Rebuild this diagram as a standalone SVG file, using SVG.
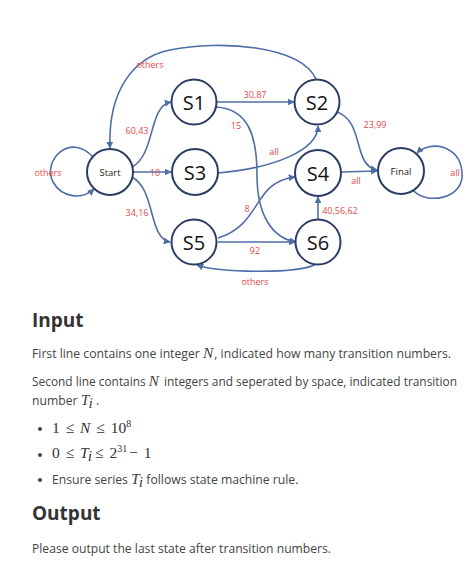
<svg xmlns="http://www.w3.org/2000/svg" width="474" height="569" viewBox="0 0 474 569">
<defs>
<marker id="arr" viewBox="0 0 10 10" refX="9" refY="5" markerWidth="7" markerHeight="7" markerUnits="userSpaceOnUse" orient="auto">
<path d="M0,0 L10,5 L0,10 z" fill="#4f6ea8"/>
</marker>
<style>
.node circle{fill:#fff;stroke:#2c3d63;stroke-width:2}
.big{font-family:"Open Sans","Liberation Sans",sans-serif;font-size:20px;fill:#111;text-anchor:middle;dominant-baseline:central}
.small{font-family:"Open Sans","Liberation Sans",sans-serif;font-size:9.5px;fill:#222;text-anchor:middle;dominant-baseline:central}
#edges path{fill:none;stroke:#4f6ea8;stroke-width:1.6;marker-end:url(#arr)}
.lbl{font-family:"Open Sans","Liberation Sans",sans-serif;font-size:9px;fill:#e04a4a;text-anchor:middle;dominant-baseline:central}
.body{font-family:"Open Sans","Liberation Sans",sans-serif;font-size:12.2px;fill:#444}
.h{font-family:"Open Sans","Liberation Sans",sans-serif;font-size:19px;font-weight:bold;fill:#333}
.m{font-family:"Liberation Serif","DejaVu Serif",serif;font-size:15.5px}
.mi{font-family:"Liberation Serif","DejaVu Serif",serif;font-style:italic;font-size:15.5px}
</style>
</defs>
<g id="edges">
<path d="M93,157 C70,132 42,160 53,182 C62,198 82,200 94,189"/>
<path d="M316,79 C300,45 220,40 170,50 C130,58 108,95 110,148"/>
<path d="M132,167 C156,154 148,106 171,102"/>
<path d="M133,172 L171,172"/>
<path d="M132,177 C156,190 148,238 170,242"/>
<path d="M217,102 L294,102"/>
<path d="M216,107 C248,109 257,135 257,175 C257,215 272,238 296,242"/>
<path d="M218,173 C275,168 318,150 318,126"/>
<path d="M218,238 C262,225 252,182 295,177"/>
<path d="M341,172 L377,171"/>
<path d="M337,112 C365,122 352,165 377,170"/>
<path d="M318,219 L318,197"/>
<path d="M218,242 L295,242"/>
<path d="M316,264 C300,274 220,273 197,265"/>
<path d="M413,190 C425,205 465,200 462,172 C460,145 430,140 417,153"/>
</g>
<g id="edge-labels">
<text class="lbl" x="48" y="172">others</text>
<text class="lbl" x="150" y="64">others</text>
<text class="lbl" x="137" y="130">60,43</text>
<text class="lbl" x="155" y="172">10</text>
<text class="lbl" x="137" y="212">34,16</text>
<text class="lbl" x="255" y="94">30,87</text>
<text class="lbl" x="236" y="125">15</text>
<text class="lbl" x="274" y="151">all</text>
<text class="lbl" x="375" y="124">23,99</text>
<text class="lbl" x="455" y="172">all</text>
<text class="lbl" x="356" y="180">all</text>
<text class="lbl" x="247" y="208">8</text>
<text class="lbl" x="340" y="210">40,56,62</text>
<text class="lbl" x="255" y="250">92</text>
<text class="lbl" x="255" y="281">others</text>
</g>
<g id="Start" class="node"><circle cx="110" cy="172" r="23"/><text class="small" x="110" y="172">Start</text></g>
<g id="S1" class="node"><circle cx="194" cy="102" r="22.5"/><text class="big" x="194" y="102">S1</text></g>
<g id="S2" class="node"><circle cx="317" cy="102" r="22.5"/><text class="big" x="317" y="102">S2</text></g>
<g id="S3" class="node"><circle cx="195" cy="172" r="23"/><text class="big" x="195" y="172">S3</text></g>
<g id="S4" class="node"><circle cx="318" cy="173" r="23"/><text class="big" x="318" y="173">S4</text></g>
<g id="Final" class="node"><circle cx="401" cy="171" r="23"/><text class="small" x="401" y="171">Final</text></g>
<g id="S5" class="node"><circle cx="194" cy="242" r="22.5"/><text class="big" x="194" y="242">S5</text></g>
<g id="S6" class="node"><circle cx="318" cy="242" r="22.5"/><text class="big" x="318" y="242">S6</text></g>
<g id="text">
<text class="h" x="32" y="327">Input</text>
<text class="body" x="32" y="358" textLength="419" lengthAdjust="spacingAndGlyphs">First line contains one integer <tspan class="mi">N</tspan><tspan dx="1">, indicated how many transition numbers.</tspan></text>
<text class="body" x="32" y="386" textLength="425" lengthAdjust="spacingAndGlyphs">Second line contains <tspan class="mi">N</tspan><tspan dx="2"> integers and seperated by space, indicated transition</tspan></text>
<text class="body" x="32" y="405">number <tspan class="mi">T</tspan><tspan class="mi" font-size="10.5" dy="3">i</tspan><tspan dy="-3"> .</tspan></text>
<circle cx="40" cy="429" r="2" fill="#444"/>
<text class="m" x="52" y="433" fill="#333">1 <tspan dx="2">≤</tspan> <tspan class="mi" dx="2">N</tspan> <tspan dx="2">≤</tspan> <tspan dx="2">10</tspan><tspan font-size="10" dy="-6">8</tspan></text>
<circle cx="40" cy="455" r="2" fill="#444"/>
<text class="m" x="52" y="458" fill="#333">0 <tspan dx="2">≤</tspan> <tspan class="mi" dx="2">T</tspan><tspan class="mi" font-size="10.5" dy="3">i</tspan><tspan dy="-3" dx="3">≤</tspan> <tspan dx="2">2</tspan><tspan font-size="10" dy="-6">31</tspan><tspan dy="6" dx="2">−</tspan> <tspan dx="2">1</tspan></text>
<circle cx="40" cy="480" r="2" fill="#444"/>
<text class="body" x="52" y="484">Ensure series <tspan class="mi">T</tspan><tspan class="mi" font-size="10.5" dy="3">i</tspan><tspan dy="-3"> follows state machine rule.</tspan></text>
<text class="h" x="32" y="520">Output</text>
<text class="body" x="32" y="553" textLength="299" lengthAdjust="spacingAndGlyphs">Please output the last state after transition numbers.</text>
</g>
</svg>
